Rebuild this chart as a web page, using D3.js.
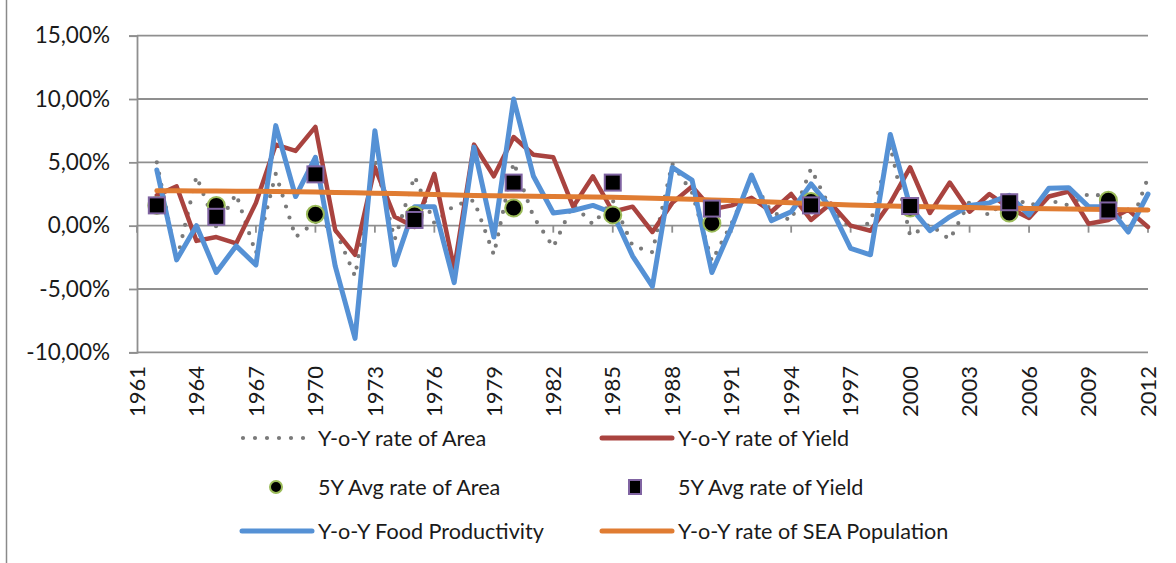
<!DOCTYPE html>
<html>
<head>
<meta charset="utf-8">
<script src="https://cdn.jsdelivr.net/npm/d3@7"></script>
<style>
    body { margin: 0; background: #fff; }
    svg { display: block; font-family: Lato, "Open Sans", sans-serif; }
</style>
</head>
<body>
<svg id="chart" width="1176" height="563"></svg>
<script>
// years on the category axis
const years = d3.range(1961, 2013);

// Y-o-Y rates in percent, first year has no rate
const areaRate = [null,
    5.0, -2.8, 3.9, -0.1, 2.5, -2.2, 4.1, -0.9, 0.3, -0.3,
    -4.0, 5.3, -1.1, 3.9, 0.2, 1.6, 2.0, -2.3, 5.0, 0.7,
    -1.7, 1.7, 0.1, 2.0, -1.6, -2.1, 4.9, 2.6, -2.8, 0.2,
    3.7, 1.1, 0.4, 4.5, 1.3, -0.2, 0.2, 6.3, -0.8, 0.1,
    -1.1, 1.9, 0.8, 2.4, 1.6, 2.0, 1.6, 2.5, 2.3, -0.5, 3.8];

const yieldRate = [null,
    2.4, 3.1, -1.2, -0.9, -1.4, 1.8, 6.4, 5.9, 7.8, -0.35,
    -2.3, 4.6, 0.7, -0.1, 4.1, -3.4, 6.4, 3.9, 7.0, 5.6,
    5.4, 1.5, 3.9, 1.1, 1.5, -0.5, 1.8, 3.1, 1.3, 1.6,
    2.2, 1.1, 2.5, 0.45, 1.75, 0.0, -0.4, 1.8, 4.6, 1.0,
    3.4, 1.1, 2.5, 1.4, 0.6, 2.3, 2.7, 0.15, 0.45, 1.25, -0.1];

const foodRate = [null,
    4.4, -2.7, 0.0, -3.7, -1.6, -3.1, 7.9, 2.3, 5.4, -3.2,
    -8.9, 7.5, -3.1, 1.5, 1.5, -4.5, 6.2, -0.9, 10.0, 3.9,
    1.0, 1.2, 1.6, 1.0, -2.4, -4.8, 4.6, 3.6, -3.7, -0.1,
    4.0, 0.4, 1.1, 3.3, 1.4, -1.8, -2.3, 7.2, 1.5, -0.4,
    0.7, 1.6, 1.8, 2.4, 0.85, 2.95, 3.0, 1.5, 1.5, -0.5, 2.5];

const popRate = [null,
    2.76, 2.75, 2.74, 2.73, 2.72, 2.71, 2.70, 2.68, 2.65, 2.62,
    2.59, 2.56, 2.53, 2.50, 2.46, 2.42, 2.39, 2.36, 2.34, 2.32,
    2.30, 2.28, 2.26, 2.24, 2.21, 2.17, 2.13, 2.08, 2.03, 1.98,
    1.92, 1.86, 1.80, 1.74, 1.69, 1.64, 1.60, 1.56, 1.52, 1.49,
    1.46, 1.43, 1.40, 1.38, 1.35, 1.33, 1.31, 1.29, 1.27, 1.25, 1.23];

// 5 year averages, only plotted as markers
const avgYears = [1962, 1965, 1970, 1975, 1980, 1985, 1990, 1995, 2000, 2005, 2010];
const avgArea = [1.6, 1.6, 0.9, 0.85, 1.4, 0.85, 0.2, 1.9, 1.4, 1.0, 2.0];
const avgYield = [1.6, 0.7, 4.05, 0.45, 3.4, 3.4, 1.35, 1.6, 1.55, 1.85, 1.2];

const yTicks = [-10, -5, 0, 5, 10, 15];
const xTickYears = d3.range(1961, 2013, 3);

const seriesNames = ["Y-o-Y rate of Area", "Y-o-Y rate of Yield", "5Y Avg rate of Area",
    "5Y Avg rate of Yield", "Y-o-Y Food Productivity", "Y-o-Y rate of SEA Population"];

const colours = {
    grid: "#8f8f8f",
    area: "#7a7a7a",
    yield: "#a9433f",
    food: "#5591d5",
    pop: "#e07c32",
    circleEdge: "#9bbb59",
    squareEdge: "#8064a2",
    text: "#1a1a1a"
};

// comma decimal, plain hyphen for negatives
const pctLocale = d3.formatLocale({ decimal: ",", thousands: ".", grouping: [3], currency: ["", ""], minus: "-" });
const pctFormat = d => pctLocale.format(".2f")(d) + "%";

const svg = d3.select("#chart");

// outer chart border (only the left edge is inside the picture)
svg.append("line")
    .attr("x1", 6.5).attr("x2", 6.5)
    .attr("y1", 0).attr("y2", 563)
    .attr("stroke", "#8a8a8a")
    .attr("stroke-width", 1.5);

const plotLeft = 137, plotRight = 1148, plotTop = 35.7, plotBottom = 352.3;

const x = d3.scalePoint()
    .domain(years)
    .range([plotLeft, plotRight]);

const y = d3.scaleLinear()
    .domain([-10, 15])
    .range([plotBottom, plotTop]);

// horizontal gridlines
svg.append("g")
    .selectAll("line")
    .data(yTicks)
    .join("line")
    .attr("x1", plotLeft)
    .attr("x2", plotRight)
    .attr("y1", d => y(d))
    .attr("y2", d => y(d))
    .attr("stroke", colours.grid)
    .attr("stroke-width", 1.8);

// vertical axis
const yAxis = svg.append("g")
    .attr("transform", `translate(${plotLeft},0)`)
    .call(d3.axisLeft(y).tickValues(yTicks).tickSize(8).tickPadding(19).tickFormat(pctFormat));
yAxis.selectAll("path, line")
    .attr("stroke", colours.grid)
    .attr("stroke-width", 1.8);
yAxis.selectAll("text")
    .attr("font-size", 22.5)
    .attr("font-family", "Lato")
    .attr("fill", colours.text);

// small ticks on the zero line
svg.append("g")
    .selectAll("line")
    .data(xTickYears)
    .join("line")
    .attr("x1", d => x(d))
    .attr("x2", d => x(d))
    .attr("y1", y(0))
    .attr("y2", y(0) + 7)
    .attr("stroke", colours.grid)
    .attr("stroke-width", 1.8);

// year labels, rotated
svg.append("g")
    .selectAll("text")
    .data(xTickYears)
    .join("text")
    .attr("transform", d => `translate(${x(d)},366) rotate(-90)`)
    .attr("text-anchor", "end")
    .attr("dy", "0.35em")
    .attr("font-size", 22)
    .attr("fill", colours.text)
    .text(d => d);

const line = values => d3.line()
    .defined(d => d[1] != null)
    .x(d => x(d[0]))
    .y(d => y(d[1]))(years.map((yr, i) => [yr, values[i]]));

// grey dotted area series
svg.append("path")
    .attr("d", line(areaRate))
    .attr("fill", "none")
    .attr("stroke", colours.area)
    .attr("stroke-width", 4.2)
    .attr("stroke-linecap", "round")
    .attr("stroke-dasharray", "0 11.5");

const solidLine = (values, colour, width) => svg.append("path")
    .attr("d", line(values))
    .attr("fill", "none")
    .attr("stroke", colour)
    .attr("stroke-width", width)
    .attr("stroke-linejoin", "round")
    .attr("stroke-linecap", "round");

solidLine(yieldRate, colours.yield, 4.5);
solidLine(foodRate, colours.food, 5);
solidLine(popRate, colours.pop, 5);

// 5Y average markers
svg.append("g")
    .selectAll("circle")
    .data(avgYears.map((yr, i) => [yr, avgArea[i]]))
    .join("circle")
    .attr("cx", d => x(d[0]))
    .attr("cy", d => y(d[1]))
    .attr("r", 8.5)
    .attr("fill", "#000")
    .attr("stroke", colours.circleEdge)
    .attr("stroke-width", 2);

svg.append("g")
    .selectAll("rect")
    .data(avgYears.map((yr, i) => [yr, avgYield[i]]))
    .join("rect")
    .attr("x", d => x(d[0]) - 8)
    .attr("y", d => y(d[1]) - 8)
    .attr("width", 16)
    .attr("height", 16)
    .attr("fill", "#000")
    .attr("stroke", colours.squareEdge)
    .attr("stroke-width", 2);

// legend, two columns and three rows
const legendCols = [240, 600];
const legendRows = [438, 487, 531];
const legend = svg.append("g")
    .attr("font-size", 21.6)
    .attr("fill", colours.text);

seriesNames.forEach((name, i) => {
    const lx = legendCols[i % 2];
    const ly = legendRows[Math.floor(i / 2)];
    const g = legend.append("g").attr("transform", `translate(${lx},${ly})`);

    if (i === 0) {
        g.append("line")
            .attr("x1", 3).attr("x2", 66)
            .attr("stroke", colours.area)
            .attr("stroke-width", 4.2)
            .attr("stroke-linecap", "round")
            .attr("stroke-dasharray", "0 12");
    } else if (i === 2) {
        g.append("circle")
            .attr("cx", 36).attr("r", 6)
            .attr("fill", "#000")
            .attr("stroke", colours.circleEdge)
            .attr("stroke-width", 2);
    } else if (i === 3) {
        g.append("rect")
            .attr("x", 29).attr("y", -7)
            .attr("width", 12).attr("height", 14)
            .attr("fill", "#000")
            .attr("stroke", colours.squareEdge)
            .attr("stroke-width", 2);
    } else {
        const c = [null, colours.yield, null, null, colours.food, colours.pop][i];
        g.append("line")
            .attr("x1", 2).attr("x2", 72)
            .attr("stroke", c)
            .attr("stroke-width", 5)
            .attr("stroke-linecap", "round");
    }

    g.append("text")
        .attr("x", 78)
        .attr("dy", "0.35em")
        .text(name);
});
</script>
</body>
</html>
